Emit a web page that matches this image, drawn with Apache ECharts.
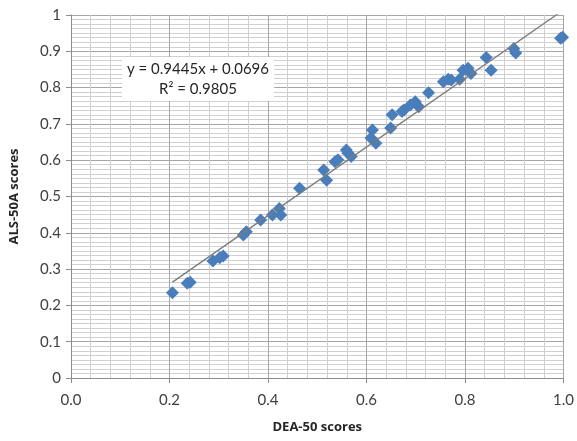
<!DOCTYPE html>
<html>
<head>
<meta charset="utf-8">
<script src="https://cdn.jsdelivr.net/npm/echarts@6/dist/echarts.min.js"></script>
<style>
  html, body { margin: 0; padding: 0; background: #fff; }
  #chart { width: 577px; height: 441px; }
</style>
</head>
<body>
<div id="chart"></div>
<script>
// DEA-50 vs ALS-50A scores
const deaScores = [
  0.206, 0.236, 0.242, 0.288, 0.302, 0.309, 0.350, 0.356, 0.385, 0.409,
  0.423, 0.426, 0.464, 0.513, 0.519, 0.536, 0.542, 0.559, 0.562, 0.569,
  0.609, 0.612, 0.619, 0.649, 0.652, 0.672, 0.676, 0.689, 0.699, 0.706,
  0.726, 0.756, 0.766, 0.772, 0.789, 0.796, 0.806, 0.812, 0.843, 0.853,
  0.899, 0.903, 0.994, 0.998
];
const alsScores = [
  0.235, 0.261, 0.264, 0.322, 0.331, 0.336, 0.394, 0.403, 0.435, 0.449,
  0.467, 0.449, 0.523, 0.573, 0.545, 0.596, 0.601, 0.628, 0.620, 0.610,
  0.661, 0.683, 0.647, 0.689, 0.725, 0.734, 0.738, 0.752, 0.761, 0.747,
  0.786, 0.816, 0.823, 0.821, 0.823, 0.848, 0.853, 0.839, 0.883, 0.848,
  0.908, 0.895, 0.936, 0.939
];
const slope = 0.9445;
const intercept = 0.0696;
const equationText = "y = 0.9445x + 0.0696\nR² = 0.9805";

const points = deaScores.map((x, i) => [x, alsScores[i]]);
const xFrom = Math.min(...deaScores);
const xTo = Math.max(...deaScores);
const trend = [xFrom, xTo].map(x => [x, slope * x + intercept]);

const labelStyle = { fontFamily: "Lato", fontSize: 15, color: "#404040" };
const nameStyle = { fontFamily: "Open Sans", fontSize: 13, fontWeight: "bold", color: "#262626" };

const chart = echarts.init(document.getElementById("chart"));
chart.setOption({
  animation: false,
  grid: { left: 67, right: 10, top: 15, bottom: 63 },
  xAxis: {
    type: "value",
    min: 0,
    max: 1,
    interval: 0.2,
    name: "DEA-50 scores",
    nameLocation: "middle",
    nameGap: 43,
    nameTextStyle: nameStyle,
    axisLine: { show: true, lineStyle: { color: "#8c8c8c" } },
    axisTick: { show: true, length: 5, lineStyle: { color: "#8c8c8c" } },
    axisLabel: Object.assign({ margin: 15, formatter: v => v.toFixed(1) }, labelStyle),
    splitLine: { lineStyle: { color: "#a6a6a6" } },
    minorTick: { show: false, splitNumber: 5 },
    minorSplitLine: { show: true, lineStyle: { color: "#d0d0d0" } }
  },
  yAxis: {
    type: "value",
    min: 0,
    max: 1,
    interval: 0.1,
    name: "ALS-50A scores",
    nameLocation: "middle",
    nameGap: 50,
    nameTextStyle: nameStyle,
    axisLine: { show: true, lineStyle: { color: "#8c8c8c" } },
    axisTick: { show: true, length: 5, lineStyle: { color: "#8c8c8c" } },
    axisLabel: Object.assign({ margin: 10, formatter: v => String(Math.round(v * 10) / 10) }, labelStyle),
    splitLine: { lineStyle: { color: "#a6a6a6" } },
    minorTick: { show: false, splitNumber: 8 },
    minorSplitLine: { show: true, lineStyle: { color: "#d0d0d0" } }
  },
  series: [
    {
      type: "scatter",
      data: points,
      symbol: "diamond",
      symbolSize: 13,
      itemStyle: { color: "#4a7ebb", opacity: 1 },
      z: 2
    },
    {
      type: "line",
      data: trend,
      showSymbol: false,
      clip: true,
      lineStyle: { color: "#7a7a7a", width: 1.3 },
      z: 3
    }
  ],
  graphic: [
    {
      type: "rect",
      shape: { x: 122, y: 57, width: 152, height: 44 },
      style: { fill: "#ffffff" },
      z: 10
    },
    {
      type: "text",
      x: 198,
      y: 79,
      style: {
        text: equationText,
        fontFamily: "Lato",
        fontSize: 15,
        lineHeight: 20,
        fill: "#262626",
        align: "center",
        verticalAlign: "middle"
      },
      z: 11
    }
  ]
});
</script>
</body>
</html>
